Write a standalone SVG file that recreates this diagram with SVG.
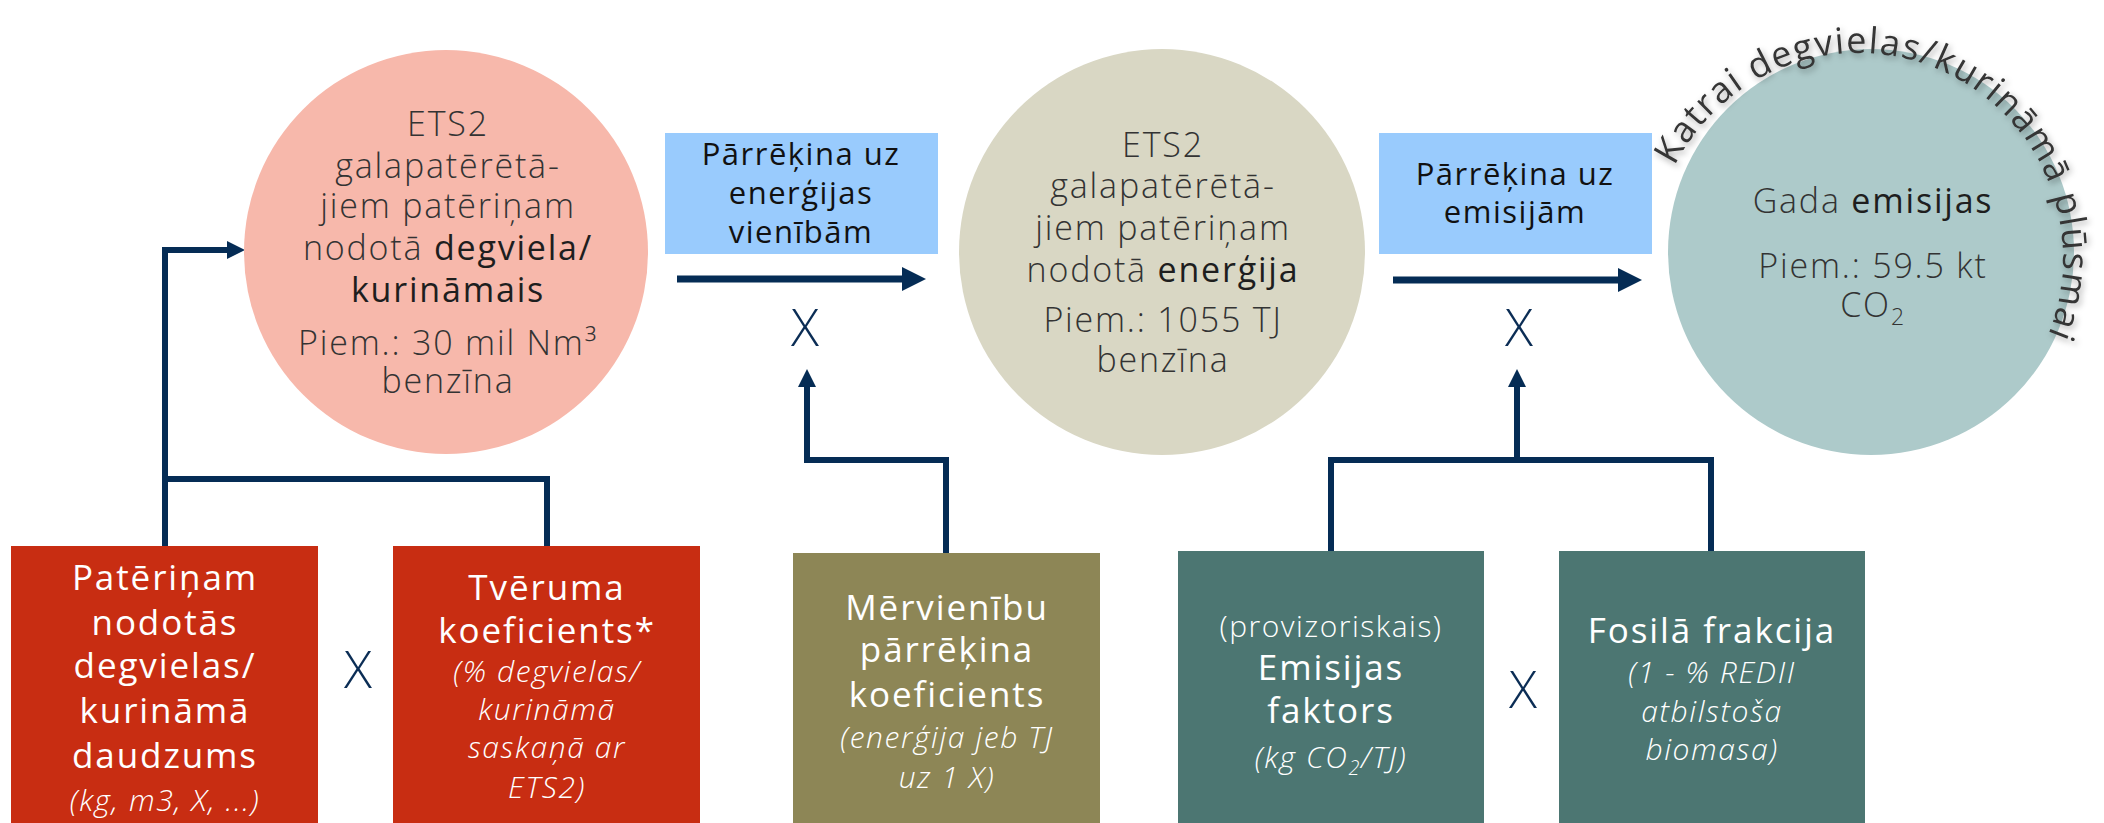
<svg xmlns="http://www.w3.org/2000/svg" width="2104" height="823" viewBox="0 0 2104 823">
<style>
text{font-family:"Open Sans","Noto Sans","DejaVu Sans",sans-serif;text-anchor:middle}
.ct{font-size:34px;font-weight:300;fill:#333;letter-spacing:1.8px}
.b{font-weight:500;fill:#1e1e1e}
.bt{font-size:31px;font-weight:400;fill:#111;letter-spacing:1.5px}
.wt{font-size:35px;font-weight:400;fill:#fff;letter-spacing:1.9px}
.it{font-size:30px;font-style:italic;font-weight:300;fill:#fff;letter-spacing:1.6px}
.sm{font-size:30px;font-weight:300;fill:#fff;letter-spacing:1.5px}
.x{font-size:52px;font-weight:300;fill:#0b2d55}
.con{fill:none;stroke:#052c55;stroke-width:6}
.arr{fill:none;stroke:#052c55;stroke-width:7}
.arc{font-size:36px;font-weight:400;fill:#343434;letter-spacing:1.5px}
</style>
<defs>
<marker id="hBig" viewBox="0 0 24 24" refX="0" refY="12" markerWidth="24" markerHeight="24" markerUnits="userSpaceOnUse" orient="auto"><path d="M0,0 L24,12 L0,24 z" fill="#052c55"/></marker>
<marker id="hSm" viewBox="0 0 18 18" refX="0" refY="9" markerWidth="18" markerHeight="18" markerUnits="userSpaceOnUse" orient="auto"><path d="M0,0 L18,9 L0,18 z" fill="#052c55"/></marker>
<filter id="sh" x="-20%" y="-20%" width="140%" height="140%"><feDropShadow dx="2" dy="3" stdDeviation="3" flood-color="#000" flood-opacity="0.35"/></filter>
<path id="arcp" d="M1659.5,206.7 A205,205 0 1 1 2026.9,374.1"/>
</defs>

<g id="connectors">
<path class="con" d="M165,546 V250 H227" marker-end="url(#hSm)"/>
<path class="con" d="M165,479 H547 V546"/>
<path class="con" d="M946,553 V460 H807 V387" marker-end="url(#hSm)"/>
<path class="con" d="M1331,552 V460 H1711 V551"/>
<path class="con" d="M1517,460 V387" marker-end="url(#hSm)"/>
<path class="arr" d="M677,279 H902" marker-end="url(#hBig)"/>
<path class="arr" d="M1393,280 H1618" marker-end="url(#hBig)"/>
</g>

<g id="circle-fuel">
<circle cx="446" cy="252" r="202" fill="#f7b8ab"/>
<text class="ct" x="448" y="136">ETS2</text>
<text class="ct" x="448" y="178">galapatērētā-</text>
<text class="ct" x="448" y="218">jiem patēriņam</text>
<text class="ct" x="448" y="260">nodotā <tspan class="b">degviela/</tspan></text>
<text class="ct" x="448" y="302"><tspan class="b">kurināmais</tspan></text>
<text class="ct" x="448" y="355">Piem.: 30 mil Nm³</text>
<text class="ct" x="448" y="393">benzīna</text>
</g>

<g id="box-energy-conv">
<rect x="665" y="133" width="273" height="121" fill="#99cbfd"/>
<text class="bt" x="801" y="165">Pārrēķina uz</text>
<text class="bt" x="801" y="204">enerģijas</text>
<text class="bt" x="801" y="243">vienībām</text>
</g>

<g id="circle-energy">
<circle cx="1162" cy="252" r="203" fill="#d9d7c4"/>
<text class="ct" x="1163" y="157">ETS2</text>
<text class="ct" x="1163" y="198">galapatērētā-</text>
<text class="ct" x="1163" y="240">jiem patēriņam</text>
<text class="ct" x="1163" y="282">nodotā <tspan class="b">enerģija</tspan></text>
<text class="ct" x="1163" y="332">Piem.: 1055 TJ</text>
<text class="ct" x="1163" y="372">benzīna</text>
</g>

<g id="box-emission-conv">
<rect x="1379" y="133" width="273" height="121" fill="#99cbfd"/>
<text class="bt" x="1515" y="185">Pārrēķina uz</text>
<text class="bt" x="1515" y="223">emisijām</text>
</g>

<g id="circle-emissions">
<circle cx="1871" cy="252" r="203" fill="#adcaca"/>
<text class="ct" x="1873" y="213">Gada <tspan class="b">emisijas</tspan></text>
<text class="ct" x="1873" y="278">Piem.: 59.5 kt</text>
<text class="ct" x="1873" y="317">CO<tspan font-size="23" dy="8">2</tspan></text>
<text class="arc" filter="url(#sh)"><textPath href="#arcp" startOffset="50%">Katrai degvielas/kurināmā plūsmai</textPath></text>
</g>

<g id="mult-top">
<text class="x" x="805" y="346">X</text>
<text class="x" x="1519" y="346">X</text>
</g>

<g id="box-quantity">
<rect x="11" y="546" width="307" height="277" fill="#c82d12"/>
<text class="wt" x="165" y="590">Patēriņam</text>
<text class="wt" x="165" y="635">nodotās</text>
<text class="wt" x="165" y="678">degvielas/</text>
<text class="wt" x="165" y="723">kurināmā</text>
<text class="wt" x="165" y="768">daudzums</text>
<text class="it" x="165" y="811">(kg, m3, X, ...)</text>
</g>

<g id="mult-left"><text class="x" x="358" y="688">X</text></g>

<g id="box-coverage">
<rect x="393" y="546" width="307" height="277" fill="#c82d12"/>
<text class="wt" x="547" y="600">Tvēruma</text>
<text class="wt" x="547" y="643">koeficients*</text>
<text class="it" x="547" y="682">(% degvielas/</text>
<text class="it" x="547" y="720">kurināmā</text>
<text class="it" x="547" y="758">saskaņā ar</text>
<text class="it" x="547" y="798">ETS2)</text>
</g>

<g id="box-unit-conv">
<rect x="793" y="553" width="307" height="270" fill="#8d8656"/>
<text class="wt" x="947" y="620">Mērvienību</text>
<text class="wt" x="947" y="662">pārrēķina</text>
<text class="wt" x="947" y="707">koeficients</text>
<text class="it" x="947" y="748">(enerģija jeb TJ</text>
<text class="it" x="947" y="788">uz 1 X)</text>
</g>

<g id="box-emission-factor">
<rect x="1178" y="551" width="306" height="272" fill="#4c7672"/>
<text class="sm" x="1331" y="637">(provizoriskais)</text>
<text class="wt" x="1331" y="680">Emisijas</text>
<text class="wt" x="1331" y="723">faktors</text>
<text class="it" x="1331" y="768">(kg CO<tspan font-size="20" dy="7">2</tspan><tspan dy="-7">/TJ)</tspan></text>
</g>

<g id="mult-right"><text class="x" x="1523" y="708">X</text></g>

<g id="box-fossil">
<rect x="1559" y="551" width="306" height="272" fill="#4c7672"/>
<text class="wt" x="1712" y="643">Fosilā frakcija</text>
<text class="it" x="1712" y="683">(1 - % REDII</text>
<text class="it" x="1712" y="722">atbilstoša</text>
<text class="it" x="1712" y="760">biomasa)</text>
</g>
</svg>
